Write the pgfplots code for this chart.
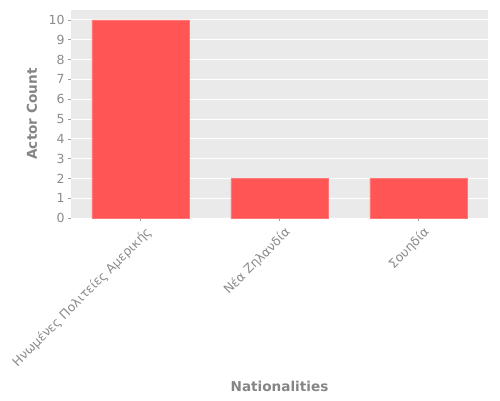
\documentclass[border=0pt]{standalone}
\usepackage{pgfplots}
\pgfplotsset{compat=1.18}
\usepackage{fontspec}
\setmainfont{DejaVu Sans}
\definecolor{barred}{HTML}{FF5555}
\definecolor{panel}{HTML}{EAEAEA}
\definecolor{txt}{HTML}{777777}
\begin{document}
\begin{tikzpicture}
\path (0,0) rectangle (500pt,400pt);
\begin{axis}[
  at={(71pt,182pt)}, anchor=south west,
  scale only axis, width=417pt, height=208pt,
  xmin=-0.5, xmax=2.5, ymin=0, ymax=10.5,
  axis background/.style={fill=panel},
  axis line style={draw=none},
  ymajorgrids, grid style={white, line width=0.9pt},
  xtick=data,
  xticklabels={Ηνωμένες Πολιτείες Αμερικής, Νέα Ζηλανδία, Σουηδία},
  ytick={0,1,...,10},
  xtick pos=left, ytick pos=left,
  tick align=outside, major tick length=3pt,
  tick style={txt!70, line width=0.5pt},
  /pgf/number format/assume math mode=true,
  ticklabel style={font=\fontsize{12.5}{14}\selectfont, text=txt!85},
  xticklabel style={rotate=45, anchor=north east, xshift=3pt, yshift=-3pt},
  xlabel={\textbf{Nationalities}},
  ylabel={\textbf{Actor Count}},
  label style={font=\fontsize{13.6}{15}\selectfont, text=txt!90},
  xlabel style={at={(axis description cs:0.5,0)}, anchor=center, yshift=-168pt},
  ylabel style={at={(axis description cs:0,0.5)}, anchor=center, yshift=39pt},
]
\addplot[ybar, bar width=0.7, bar shift=0pt, fill=barred, draw=barred!80!white, line width=0.4pt]
  coordinates {(0,10) (1,2) (2,2)};
\end{axis}
\end{tikzpicture}
\end{document}
